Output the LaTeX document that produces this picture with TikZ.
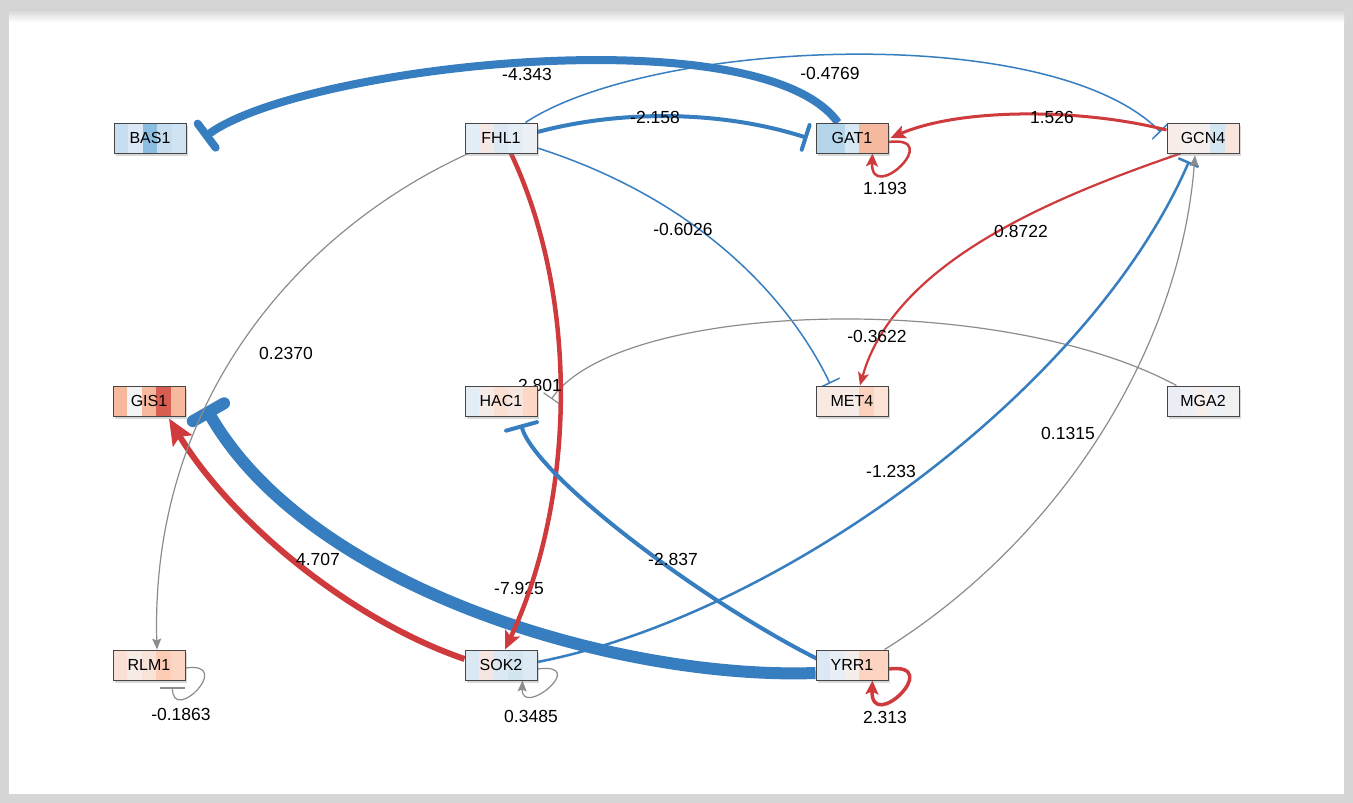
\documentclass[tikz,border=0pt]{standalone}
\usepackage{fontspec}
\setmainfont{Liberation Sans}
\usetikzlibrary{arrows.meta,calc,shadows}
\definecolor{eblue}{RGB}{55,126,192}
\definecolor{ered}{RGB}{207,58,60}
\definecolor{egray}{RGB}{140,140,140}
\definecolor{frame}{RGB}{214,214,214}
\definecolor{boxline}{RGB}{70,70,70}
\pgfdeclarelayer{edgelayer}
\pgfsetlayers{edgelayer,main}
\tikzset{
  stripes/.style={path picture={
    \foreach \c [count=\i from 0] in {#1} {
      \pgfmathsetmacro\ja{\i/5}
      \pgfmathsetmacro\jb{(\i+1)/5}
      \definecolor{tmpc}{HTML}{\c}
      \fill[tmpc] ($(path picture bounding box.south west)!\ja!(path picture bounding box.south east)$)
        rectangle ($(path picture bounding box.north west)!\jb!(path picture bounding box.north east)$);
    }}},
  gene/.style={draw=boxline, line width=0.9pt, minimum width=72pt, minimum height=30pt,
    inner sep=0pt, font=\fontsize{16}{16}\selectfont,
    drop shadow={opacity=0.3, shadow xshift=1.5pt, shadow yshift=-2.5pt}},
  lbl/.style={font=\fontsize{17.5}{18}\selectfont, inner sep=0pt},
  posedge/.style={draw=ered},
  negedge/.style={draw=eblue},
  neuedge/.style={draw=egray, line width=1.2pt},
}
\begin{document}
\begin{tikzpicture}[x=1pt,y=-1pt]
\useasboundingbox (0,0) rectangle (1353,803);
% nodes
\node[gene, stripes={C6DEF0,DAE9F5,8ABDE0,C6DEF0,CFE3F2}] (BAS1) at (150,138) {BAS1};
\node[gene, stripes={E4EEF7,F5E9E5,DCE9F4,E4EEF7,EDF1F6}] (FHL1) at (501,138) {FHL1};
\node[gene, stripes={B5D5EB,B5D5EB,D8E8F3,F5B9A0,F5B9A0}] (GAT1) at (852,138) {GAT1};
\node[gene, stripes={F7ECE8,F5F0EE,F4EEEC,D4E6F2,FAE5DC}] (GCN4) at (1203,138) {GCN4};
\node[gene, stripes={F6B99D,F4F4F4,F6B99D,D65D4F,F6B99D}] (GIS1) at (149,401) {GIS1};
\node[gene, stripes={E3EDF5,F5EBE8,FADFD3,F7E6DF,FDD8C7}] (HAC1) at (501,401) {HAC1};
\node[gene, stripes={F8E9E3,F8EBE6,F6ECE8,FCD1BD,FDE2D6}] (MET4) at (852,401) {MET4};
\node[gene, stripes={EAEEF4,EDF1F5,F7EFEC,EEF1F5,F1F1F1}] (MGA2) at (1203,401) {MGA2};
\node[gene, stripes={FBE1D5,F7EBE6,F9E2D8,FCCCB5,FCD6C4}] (RLM1) at (149,665) {RLM1};
\node[gene, stripes={DAE8F3,F6E6E1,DCE9F4,D4E5F2,DDE9F4}] (SOK2) at (501,665) {SOK2};
\node[gene, stripes={DCE8F3,E8EEF5,F5EEEA,FCD4C1,FCD4C1}] (YRR1) at (852,665) {YRR1};

\begin{pgfonlayer}{edgelayer}
\fill[frame] (0,0) rectangle (1353,803);
\fill[white] (9,9) rectangle (1344,794);
\shade[top color=black!18, bottom color=white] (9,9) rectangle (1344,22);

% YRR1 -> GIS1
\draw[negedge, line width=12pt, -{Bar[width=36pt,round]}] ($(YRR1.west)+(0,8)$)
  .. controls (620,680) and (310,590) .. ($(GIS1.east)+(20,6)$);
\node[lbl] (L7925) at (519,588) {-7.925};

% GAT1 -> BAS1
\draw[negedge, line width=8pt, -{Bar[width=30pt,round]}] ($(GAT1.north)+(-14,0)$)
  .. controls (760,14) and (300,66) .. ($(BAS1.east)+(17,0)$);
% FHL1 -> GAT1
\draw[negedge, line width=4pt, -{Bar[width=26pt,round]}] ($(FHL1.east)+(0,-6)$)
  .. controls (620,110) and (720,110) .. ($(GAT1.west)+(-8,0)$);
% FHL1 -> GCN4
\draw[negedge, line width=1.5pt, -{Bar[width=22pt]}] ($(FHL1.north east)+(-12,0)$)
  .. controls (650,40) and (1050,20) .. ($(GCN4.west)+(-6,-6)$);
% GCN4 -> GAT1
\draw[posedge, line width=3pt, -{Stealth[length=15pt,width=13pt,inset=3pt]}] ($(GCN4.west)+(0,-8)$)
  .. controls (1080,108) and (960,108) .. ($(GAT1.east)+(2,0)$);
% GAT1 loop
\draw[posedge, line width=2.5pt, -{Stealth[length=13pt,width=12pt,inset=3pt]}] ($(GAT1.east)+(0,4)$)
  .. controls ($(GAT1.east)+(57,-3)$) and ($(GAT1.south east)+(-18,52)$) .. ($(GAT1.south east)+(-16,0)$);
% FHL1 -> MET4
\draw[negedge, line width=1.5pt, -{Bar[width=22pt]}] ($(FHL1.east)+(0,10)$)
  .. controls (700,200) and (790,300) .. ($(MET4.north)+(-22,-2)$);
% GCN4 -> MET4
\draw[posedge, line width=2.2pt, -{Stealth[length=13pt,width=11pt,inset=3pt]}] ($(GCN4.south west)+(14,0)$)
  .. controls (1060,195) and (895,260) .. ($(MET4.north)+(8,0)$);
% MGA2 -> HAC1
\draw[neuedge, -{Bar[width=20pt]}] ($(MGA2.north west)+(10,0)$)
  .. controls (1000,290) and (620,300) .. ($(HAC1.east)+(14,-2)$);
% FHL1 -> SOK2
\draw[posedge, line width=4.5pt, -{Stealth[length=18pt,width=16pt,inset=4pt]}] ($(FHL1.south)+(10,0)$)
  .. controls (580,300) and (575,500) .. ($(SOK2.north)+(4,0)$);
% SOK2 -> GIS1
\draw[posedge, line width=6pt, -{Stealth[length=26pt,width=22pt,inset=5pt]}] ($(SOK2.west)+(0,-6)$)
  .. controls (350,620) and (230,520) .. ($(GIS1.south)+(20,2)$);
% YRR1 -> HAC1
\draw[negedge, line width=4pt, -{Bar[width=32pt,round]}] ($(YRR1.west)+(2,-6)$)
  .. controls (700,600) and (535,475) .. ($(HAC1.south)+(20,8)$);
% SOK2 -> GCN4
\draw[negedge, line width=2.5pt, -{Bar[width=22pt]}] ($(SOK2.east)+(0,-3)$)
  .. controls (780,615) and (1090,390) .. ($(GCN4.south)+(-14,8)$);
% YRR1 -> GCN4
\draw[neuedge, -{Stealth[length=11pt,width=9pt,inset=2pt]}] ($(YRR1.north east)+(-4,0)$)
  .. controls (1060,540) and (1180,350) .. ($(GCN4.south)+(-8,2)$);
% FHL1 -> RLM1
\draw[neuedge, -{Stealth[length=11pt,width=9pt,inset=2pt]}] ($(FHL1.south west)+(4,0)$)
  .. controls (300,230) and (150,400) .. ($(RLM1.north)+(8,0)$);
% RLM1 loop
\draw[neuedge, -{Bar[width=25pt]}] ($(RLM1.east)+(0,3)$)
  .. controls ($(RLM1.east)+(50,-4)$) and ($(RLM1.south east)+(-13,45)$) .. ($(RLM1.south east)+(-13,7)$);
% SOK2 loop
\draw[neuedge, -{Stealth[length=11pt,width=9pt,inset=2pt]}] ($(SOK2.east)+(0,4)$)
  .. controls ($(SOK2.east)+(53,-3)$) and ($(SOK2.south east)+(-16,38)$) .. ($(SOK2.south east)+(-15,0)$);
% YRR1 loop
\draw[posedge, line width=3.5pt, -{Stealth[length=14pt,width=13pt,inset=3pt]}] ($(YRR1.east)+(0,4)$)
  .. controls ($(YRR1.east)+(57,-3)$) and ($(YRR1.south east)+(-18,54)$) .. ($(YRR1.south east)+(-16,0)$);

% labels
\node[lbl] (L4343) at (527,74) {-4.343};
\node[lbl] (L4769) at (830,73) {-0.4769};
\node[lbl] (L2158) at (655,117) {-2.158};
\node[lbl] (L1526) at (1052,117) {1.526};
\node[lbl] (L1193) at (885,188) {1.193};
\node[lbl] (L6026) at (683,229) {-0.6026};
\node[lbl] (L8722) at (1021,231) {0.8722};
\node[lbl] (L3622) at (877,336) {-0.3622};
\node[lbl] (L2370) at (286,353) {0.2370};
\node[lbl] (L2801) at (540,385) {2.801};
\node[lbl] (L1315) at (1068,433) {0.1315};
\node[lbl] (L1233) at (891,471) {-1.233};
\node[lbl] (L4707) at (318,559) {4.707};
\node[lbl] (L2837) at (673,559) {-2.837};
\node[lbl] (L1863) at (181,714) {-0.1863};
\node[lbl] (L3485) at (531,716) {0.3485};
\node[lbl] (L2313) at (885,717) {2.313};
\end{pgfonlayer}
\end{tikzpicture}
\end{document}
